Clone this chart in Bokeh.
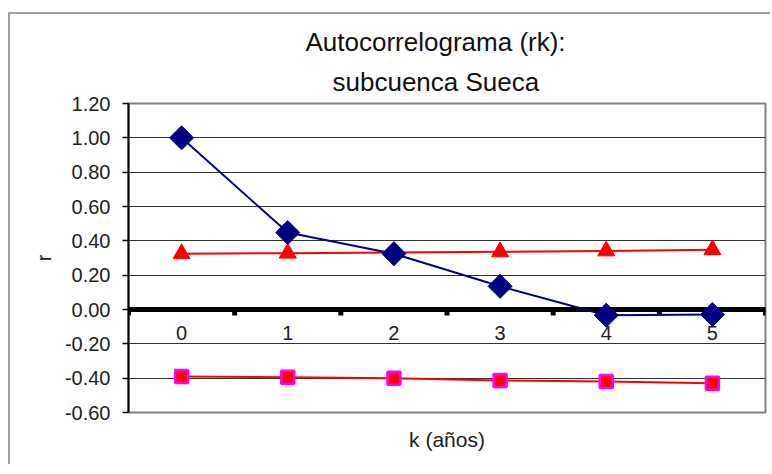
from bokeh.plotting import figure
from bokeh.models import (Range1d, FixedTicker, NumeralTickFormatter, Span, Title)
from bokeh.core.properties import value
from bokeh.embed import file_html
from bokeh.resources import INLINE
import math

# ---- data ----
k = [0, 1, 2, 3, 4, 5]
k_labels = ["0", "1", "2", "3", "4", "5"]
rk = [1.00, 0.448, 0.325, 0.135, -0.033, -0.029]
upper = [0.325, 0.328, 0.332, 0.336, 0.341, 0.348]
lower = [-0.39, -0.395, -0.40, -0.413, -0.42, -0.43]
y_ticks = [-0.6, -0.4, -0.2, 0.0, 0.2, 0.4, 0.6, 0.8, 1.0, 1.2]
title_lines = ["Autocorrelograma (rk):", "subcuenca Sueca"]

FONT = "Liberation Sans"

p = figure(width=762, height=452, output_backend="svg", toolbar_location=None,
           title=None, x_range=Range1d(k[0] - 0.5, k[-1] + 0.5),
           y_range=Range1d(y_ticks[0], y_ticks[-1]),
           min_border_left=118, min_border_right=7, min_border_top=89,
           min_border_bottom=54)
p.margin = (12, 0, 0, 8)
p.styles = {"border-left": "2px solid #a0a0a0", "border-top": "2px solid #a0a0a0"}
p.background_fill_color = "white"
p.border_fill_color = "white"
p.outline_line_color = "#808080"
p.outline_line_width = 2

# titles (first added is closest to the frame)
p.add_layout(Title(text=title_lines[1], align="left", vertical_align="top",
                   text_font=FONT, text_font_size="26px", text_font_style="normal",
                   text_color="#111111", offset=204, standoff=10), "above")
p.add_layout(Title(text=title_lines[0], align="left", vertical_align="bottom",
                   text_font=FONT, text_font_size="26px", text_font_style="normal",
                   text_color="#111111", offset=177, standoff=10), "above")

# y axis
yax = p.yaxis[0]
yax.ticker = FixedTicker(ticks=y_ticks)
yax.formatter = NumeralTickFormatter(format="0.00")
yax.major_label_text_font = FONT
yax.major_label_text_font_size = "20px"
yax.major_label_text_color = "#222222"
yax.axis_line_color = "black"
yax.axis_line_width = 2
yax.major_tick_line_color = "black"
yax.major_tick_line_width = 1.5
yax.major_tick_out = 6
yax.major_tick_in = 0
yax.minor_tick_line_color = None
yax.major_label_standoff = 12
yax.axis_label = "r"
yax.axis_label_text_font = FONT
yax.axis_label_text_font_size = "20px"
yax.axis_label_text_font_style = "normal"
yax.axis_label_text_color = "#222222"
yax.axis_label_standoff = 7

# x axis: only its title
xax = p.xaxis[0]
xax.ticker = FixedTicker(ticks=[])
xax.major_tick_line_color = None
xax.minor_tick_line_color = None
xax.axis_line_color = None
xax.axis_label = "k (años)"
xax.axis_label_text_font = FONT
xax.axis_label_text_font_size = "21px"
xax.axis_label_text_font_style = "normal"
xax.axis_label_text_color = "#222222"
xax.axis_label_standoff = 15

p.xgrid.grid_line_color = None
p.ygrid.ticker = FixedTicker(ticks=y_ticks)
p.ygrid.grid_line_color = "#333333"
p.ygrid.grid_line_width = 1.2

# zero line with category boundary ticks
zero = Span(location=0, dimension="width", line_color="black", line_width=5,
            level="underlay")
p.add_layout(zero)
bounds = [x - 0.5 for x in k] + [k[-1] + 0.5]
p.segment(x0=bounds, y0=[0] * len(bounds), x1=bounds, y1=[-0.035] * len(bounds),
          line_color="black", line_width=5)

# x labels under the zero line
p.text(x=k, y=[0] * len(k), text=k_labels, text_font=value(FONT),
       text_font_size="20px", text_color="#222222", text_align="center",
       text_baseline="middle", y_offset=23)

# series
p.line(k, upper, line_color="#ff0000", line_width=2)
p.scatter(k, upper, marker="triangle", size=17, fill_color="#ff0000",
          line_color="#ff0000")
p.line(k, lower, line_color="#ff0000", line_width=2)
p.scatter(k, lower, marker="square", size=13, fill_color="#ff0000",
          line_color="#ff00ff", line_width=2.5)
p.line(k, rk, line_color="#000080", line_width=2)
p.scatter(k, rk, marker="square", size=17, angle=math.pi / 4,
          fill_color="#000080", line_color="#000080")

open("out.html", "w").write(file_html(p, INLINE))
